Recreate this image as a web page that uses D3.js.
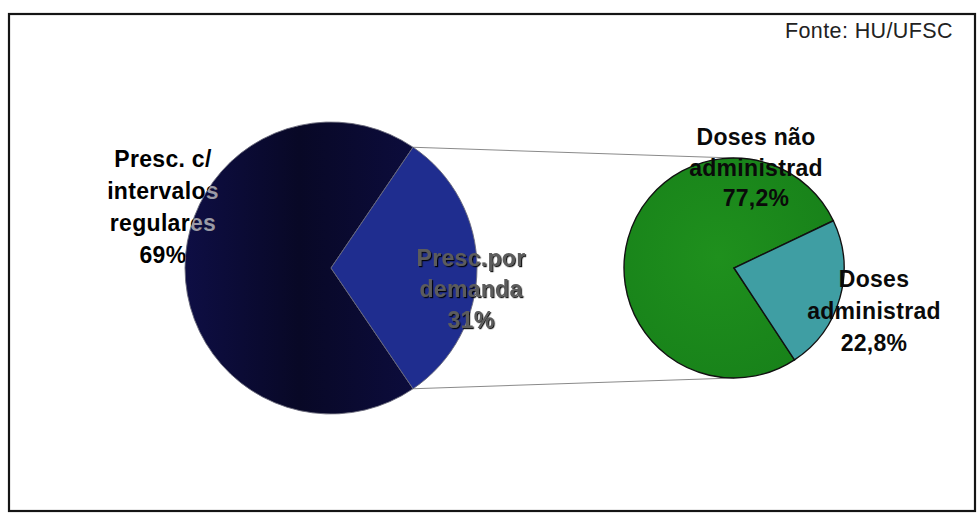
<!DOCTYPE html>
<html>
<head>
<meta charset="utf-8">
<script src="https://cdn.jsdelivr.net/npm/d3@7"></script>
<style>
  html, body { margin: 0; padding: 0; background: #fff; }
  svg { display: block; }
</style>
</head>
<body>
<svg id="chart" width="977" height="513"></svg>
<script>
// ---- data ----
const mainCategories = ["Presc. c/ intervalos regulares", "Presc.por demanda"];
const mainValues = [69, 31];
const mainLabelLines = [["Presc. c/", "intervalos", "regulares", "69%"], ["Presc.por", "demanda", "31%"]];
const subCategories = ["Doses não administrad", "Doses administrad"];
const subValues = [77.2, 22.8];
const subLabelLines = [["Doses não", "administrad", "77,2%"], ["Doses", "administrad", "22,8%"]];
const sourceText = "Fonte: HU/UFSC";

// ---- layout / style ----
const W = 977, H = 513;
const svg = d3.select("#chart");
const deg = Math.PI / 180;

const mainC = { x: 331, y: 268, r: 146 };
const subC = { x: 734, y: 268, r: 110 };

const defs = svg.append("defs");
const g1 = defs.append("linearGradient").attr("id", "darkGrad")
  .attr("x1", "0%").attr("y1", "0%").attr("x2", "100%").attr("y2", "0%");
g1.append("stop").attr("offset", "0%").attr("stop-color", "#0e0e44");
g1.append("stop").attr("offset", "50%").attr("stop-color", "#080826");
g1.append("stop").attr("offset", "100%").attr("stop-color", "#0c0c3c");

const g2 = defs.append("radialGradient").attr("id", "greenGrad")
  .attr("cx", "45%").attr("cy", "45%").attr("r", "60%");
g2.append("stop").attr("offset", "0%").attr("stop-color", "#1f901d");
g2.append("stop").attr("offset", "100%").attr("stop-color", "#18821a");

const shadow = defs.append("filter").attr("id", "shadow")
  .attr("x", "-10%").attr("y", "-10%").attr("width", "130%").attr("height", "130%");
shadow.append("feDropShadow").attr("dx", 1.2).attr("dy", 1.2)
  .attr("stdDeviation", 0.4).attr("flood-color", "#000").attr("flood-opacity", 0.9);

defs.append("clipPath").attr("id", "mainClip")
  .append("circle").attr("cx", mainC.x).attr("cy", mainC.y).attr("r", mainC.r);

// frame
svg.append("rect").attr("x", 9).attr("y", 14).attr("width", 966).attr("height", 497)
  .attr("fill", "#fff").attr("stroke", "#151515").attr("stroke-width", 2.2);

// source text
svg.append("text").attr("x", 953).attr("y", 38).attr("text-anchor", "end")
  .attr("font-family", "Liberation Sans, Arial, sans-serif").attr("font-size", 21.5)
  .attr("letter-spacing", 0.4).attr("fill", "#222").text(sourceText);

// ---- pies ----
const mainTotal = d3.sum(mainValues);
const mainSplit = mainValues[1] / mainTotal;            // share exploded into second pie
const mainStart = Math.PI / 2 + mainSplit * Math.PI;     // second slice centred on the right
const mainPie = d3.pie().sort(null).startAngle(mainStart).endAngle(mainStart + 2 * Math.PI);
const mainArcs = mainPie(mainValues);

const subTotal = d3.sum(subValues);
const subMid = 105.6 * deg;                              // rotation of the second pie
const subStart = subMid + (subValues[1] / subTotal) * Math.PI;
const subPie = d3.pie().sort(null).startAngle(subStart).endAngle(subStart + 2 * Math.PI);
const subArcs = subPie(subValues);

const mainArc = d3.arc().innerRadius(0).outerRadius(mainC.r);
const subArc = d3.arc().innerRadius(0).outerRadius(subC.r);

// connector lines
const a0 = mainArcs[1].startAngle, a1 = mainArcs[1].endAngle;
const pt = (c, a) => [c.x + c.r * Math.sin(a), c.y - c.r * Math.cos(a)];
const conn = [
  [pt(mainC, a0), [subC.x, subC.y - subC.r]],
  [pt(mainC, a1), [subC.x, subC.y + subC.r]]
];
svg.append("g").selectAll("line").data(conn).join("line")
  .attr("x1", d => d[0][0]).attr("y1", d => d[0][1])
  .attr("x2", d => d[1][0]).attr("y2", d => d[1][1])
  .attr("stroke", "#8a8a8a").attr("stroke-width", 1.1);

const mainColors = ["url(#darkGrad)", "#1f2d8f"];
const subColors = ["url(#greenGrad)", "#3f9ea3"];

svg.append("g").attr("transform", `translate(${mainC.x},${mainC.y})`)
  .selectAll("path").data(mainArcs).join("path")
  .attr("d", mainArc)
  .attr("fill", (d, i) => mainColors[i])
  .attr("stroke", "#6a6a7a").attr("stroke-width", 0.9);

svg.append("g").attr("transform", `translate(${subC.x},${subC.y})`)
  .selectAll("path").data(subArcs).join("path")
  .attr("d", subArc)
  .attr("fill", (d, i) => subColors[i])
  .attr("stroke", "#111").attr("stroke-width", 1.4);

// ---- labels ----
const font = "Liberation Sans, Arial, sans-serif";
function label(parent, lines, x, y0, step, fill, extra) {
  const t = parent.append("text")
    .attr("text-anchor", "middle").attr("font-family", font)
    .attr("font-size", 23).attr("font-weight", "bold")
    .attr("letter-spacing", 0.3).attr("fill", fill);
  if (extra) extra(t);
  t.selectAll("tspan").data(lines).join("tspan")
    .attr("x", x).attr("y", (d, i) => y0 + i * step).text(d => d);
  return t;
}

// left label: black, with the part over the dark slice shown light
label(svg, mainLabelLines[0], 163, 167, 32, "#000");
label(svg.append("g").attr("clip-path", "url(#mainClip)"), mainLabelLines[0], 163, 167, 32, "#9a9aa8");

// middle label: grey with dark shadow
label(svg, mainLabelLines[1], 471, 266, 31, "#5c5c5c", t => t.attr("filter", "url(#shadow)"));

// sub pie labels
label(svg, subLabelLines[0], 756, 145, 30.5, "#0a0a0a");
label(svg, subLabelLines[1], 874, 287, 32, "#0a0a0a");
</script>
</body>
</html>
